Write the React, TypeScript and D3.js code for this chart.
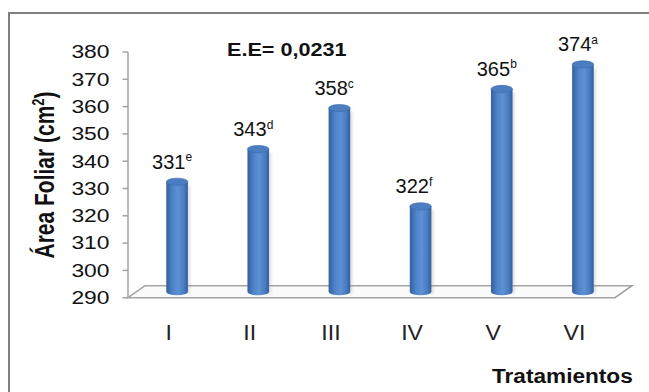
import React from "react";
import * as d3 from "d3";

const categories = ["I", "II", "III", "IV", "V", "VI"];
const values = [331, 343, 358, 322, 365, 374];
const letters = ["e", "d", "c", "f", "b", "a"];
const yTicks = [290, 300, 310, 320, 330, 340, 350, 360, 370, 380];
const yTitle = "Área Foliar (cm";
const xTitle = "Tratamientos";
const note = "E.E= 0,0231";

const W = 649;
const H = 392;
const FONT = "'Liberation Sans', Arial, Helvetica, sans-serif";

export default function App() {
  const y = d3.scaleLinear().domain([290, 380]).range([297.7, 52]);
  const x = d3.scaleBand<string>().domain(categories).range([128, 615]).padding(0);
  const depthX = 17;
  const depthY = 12;
  const barShiftX = depthX / 2;
  const rx = 10.8;
  const ry = 3.6;
  const floorMid = y(290) - 6;
  const floorPts = [
    [x.range()[0], y(290)],
    [x.range()[1], y(290)],
    [x.range()[1] + depthX, y(290) - depthY],
    [x.range()[0] + depthX, y(290) - depthY],
  ];

  return (
    <svg width={W} height={H} style={{ position: "absolute", left: 0, top: 0 }}>
      <defs>
        <linearGradient id="cyl" x1="0" x2="1" y1="0" y2="0">
          <stop offset="0%" stopColor="#33609f" />
          <stop offset="30%" stopColor="#4f84c9" />
          <stop offset="55%" stopColor="#5c91d6" />
          <stop offset="80%" stopColor="#4a7dc1" />
          <stop offset="100%" stopColor="#335f9c" />
        </linearGradient>
        <filter id="sh" x="-50%" y="-10%" width="200%" height="120%">
          <feGaussianBlur stdDeviation="1.5" />
        </filter>
      </defs>
      <rect x={0} y={0} width={W} height={H} fill="#ffffff" />
      <rect x={9} y={13} width={700} height={420} fill="#ffffff" stroke="#7f7f7f" strokeWidth={2} />

      {/* floor */}
      <polygon
        points={floorPts.map((p) => p.join(",")).join(" ")}
        fill="#fbfbfb"
        stroke="#a3a3a3"
        strokeWidth={1.6}
      />

      {/* y axis */}
      <line x1={x.range()[0]} x2={x.range()[0]} y1={y(380)} y2={y(290)} stroke="#a3a3a3" strokeWidth={1.5} />
      {yTicks.map((t) => (
        <g key={t}>
          <line x1={x.range()[0] - 5.5} x2={x.range()[0]} y1={y(t)} y2={y(t)} stroke="#a3a3a3" strokeWidth={1.5} />
          <text
            transform={`translate(109.5,${y(t) + 6.3}) scale(1.27,1)`}
            textAnchor="end"
            fontFamily={FONT}
            fontSize={18}
            fill="#111"
          >
            {t}
          </text>
        </g>
      ))}

      {/* cylinders */}
      {categories.map((c, i) => {
        const cx = (x(c) as number) + x.bandwidth() / 2 + barShiftX;
        const top = y(values[i]) - 4;
        const bot = floorMid;
        const body = `M${cx - rx},${top} L${cx - rx},${bot} A${rx},${ry} 0 0 0 ${cx + rx},${bot} L${cx + rx},${top} Z`;
        const shadow = `M${cx + rx - 2},${top + 3} L${cx + rx + 2},${top + 4} L${cx + rx + 2},${bot + 2} L${cx + rx - 2},${bot + 2} Z`;
        return (
          <g key={c}>
            <path d={shadow} fill="#9a9a9a" opacity={0.35} filter="url(#sh)" />
            <path d={body} fill="url(#cyl)" />
            <ellipse cx={cx} cy={top} rx={rx} ry={ry} fill="#4b7dc1" stroke="#3d6aa9" strokeWidth={0.6} />
            <text
              x={cx - 25}
              y={top - 13}
              fontFamily={FONT}
              fontSize={20}
              fill="#111"
            >
              {values[i]}
              <tspan fontSize={12} dy={-7.5}>{letters[i]}</tspan>
            </text>
          </g>
        );
      })}

      {/* category labels */}
      {categories.map((c) => (
        <text
          key={c}
          transform={`translate(${(x(c) as number) + x.bandwidth() / 2},340) scale(1.05,1)`}
          textAnchor="middle"
          fontFamily={FONT}
          fontSize={22}
          fill="#222"
        >
          {c}
        </text>
      ))}

      {/* note */}
      <text
        transform="translate(227,56) scale(1.2,1)"
        fontFamily={FONT}
        fontSize={18}
        fontWeight="bold"
        fill="#111"
      >
        {note}
      </text>

      {/* x title */}
      <text
        transform="translate(492,383) scale(1.16,1)"
        fontFamily={FONT}
        fontSize={19.5}
        fontWeight="bold"
        fill="#111"
      >
        {xTitle}
      </text>

      {/* y title */}
      <text
        transform="translate(54,175) scale(1.3,1) rotate(-90)"
        textAnchor="middle"
        fontFamily={FONT}
        fontSize={21}
        fontWeight="bold"
        fill="#111"
      >
        {yTitle}
        <tspan fontSize={13} dy={-8}>2</tspan>
        <tspan dy={8}>)</tspan>
      </text>
    </svg>
  );
}
